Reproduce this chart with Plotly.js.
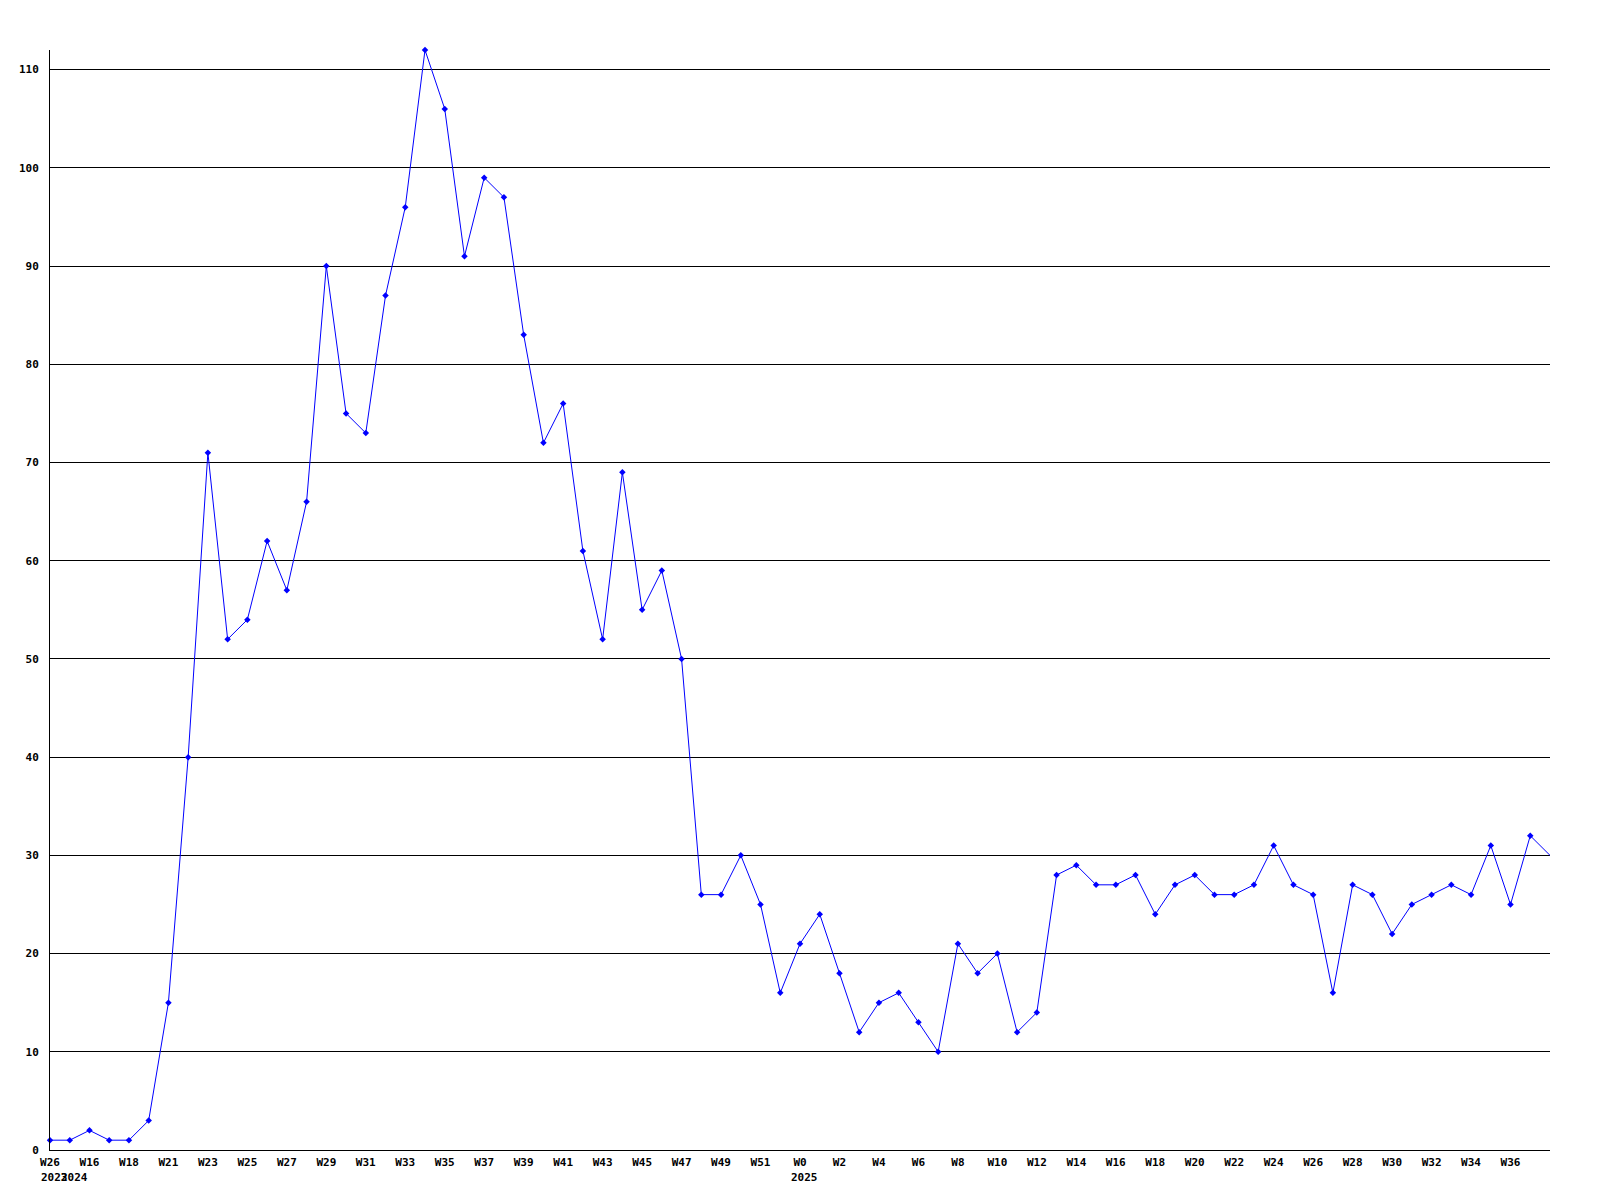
<!DOCTYPE html>
<html>
<head>
<meta charset="utf-8">
<script src="https://cdn.plot.ly/plotly-3.0.1.min.js"></script>
<style>
html,body{margin:0;padding:0;background:#fff;}
#chart{width:1600px;height:1200px;}
</style>
</head>
<body>
<div id="chart"></div>
<script>
// Weekly values, one per point (77 points)
const values = [1, 1, 2, 1, 1, 3, 15, 40, 71, 52, 54, 62, 57, 66, 90, 75, 73, 87, 96, 112,
  106, 91, 99, 97, 83, 72, 76, 61, 52, 69, 55, 59, 50, 26, 26, 30, 25, 16, 21, 24,
  18, 12, 15, 16, 13, 10, 21, 18, 20, 12, 14, 28, 29, 27, 27, 28, 24, 27, 28, 26,
  26, 27, 31, 27, 26, 16, 27, 26, 22, 25, 26, 27, 26, 31, 25, 32, 30];

// Week tick labels, shown on every second point
const weekLabels = ['W26', 'W16', 'W18', 'W21', 'W23', 'W25', 'W27', 'W29', 'W31', 'W33',
  'W35', 'W37', 'W39', 'W41', 'W43', 'W45', 'W47', 'W49', 'W51', 'W0',
  'W2', 'W4', 'W6', 'W8', 'W10', 'W12', 'W14', 'W16', 'W18', 'W20',
  'W22', 'W24', 'W26', 'W28', 'W30', 'W32', 'W34', 'W36'];

// Year labels and the point index where each starts
const yearLabels = ['2023', '2024', '2025'];
const yearIndex = [0, 1, 38];

const yTicks = [0, 10, 20, 30, 40, 50, 60, 70, 80, 90, 100, 110];

const xs = values.map((v, i) => i);
const tickVals = weekLabels.map((w, i) => i * 2);

const fontFam = '"DejaVu Sans Mono", "Liberation Mono", monospace';

const traces = [
  {
    x: xs, y: values, type: 'scatter', mode: 'lines',
    line: {color: '#0000ff', width: 1}, cliponaxis: false,
    hoverinfo: 'skip', showlegend: false
  },
  {
    x: xs.slice(0, -1), y: values.slice(0, -1), type: 'scatter', mode: 'markers',
    marker: {color: '#0000ff', size: 5, symbol: 'diamond'}, cliponaxis: false,
    showlegend: false
  }
];

const annotations = yearLabels.map((t, k) => ({
  text: t, x: yearIndex[k], xref: 'x', y: 0, yref: 'paper',
  xanchor: 'left', yanchor: 'middle', xshift: -11, yshift: -27,
  showarrow: false,
  font: {family: fontFam, size: 11, color: '#000', weight: 'bold'}
}));

const layout = {
  width: 1600, height: 1200,
  margin: {l: 50, r: 50, t: 50, b: 50},
  paper_bgcolor: '#fff', plot_bgcolor: '#fff',
  showlegend: false,
  xaxis: {
    range: [0, 76], showgrid: false, zeroline: false,
    showline: true, linecolor: '#000', linewidth: 1,
    tickmode: 'array', tickvals: tickVals, ticktext: weekLabels,
    ticks: '', tickangle: 0, ticklabelstandoff: 2,
    tickfont: {family: fontFam, size: 11, color: '#000', weight: 'bold'}
  },
  yaxis: {
    range: [0, 112], showgrid: true, gridcolor: '#000', gridwidth: 1,
    zeroline: false, showline: true, linecolor: '#000', linewidth: 1,
    tickmode: 'array', tickvals: yTicks, ticks: '',
    ticklabelstandoff: 8,
    tickfont: {family: fontFam, size: 11, color: '#000', weight: 'bold'}
  },
  annotations: annotations
};

Plotly.newPlot('chart', traces, layout, {displayModeBar: false, staticPlot: true});
</script>
</body>
</html>
